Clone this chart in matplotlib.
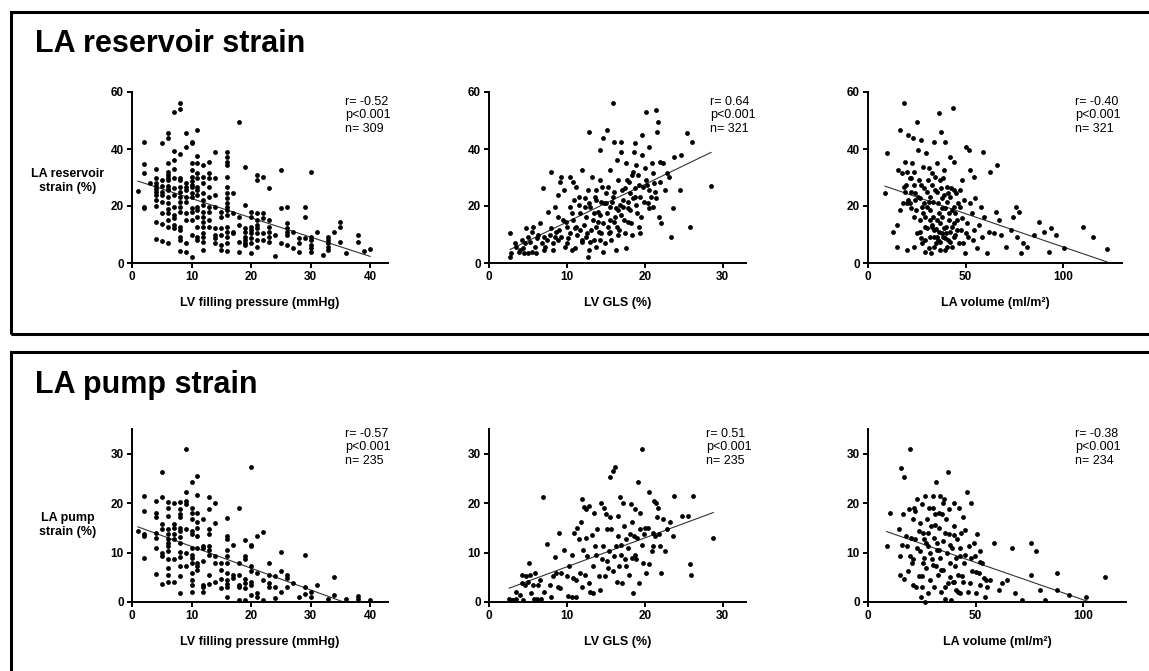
import numpy as np
import matplotlib.pyplot as plt
from matplotlib.patches import Rectangle

plt.rcParams['font.family'] = ['Liberation Sans', 'DejaVu Sans']

W, H = 1149, 671

# ---- data (x, y) ----
# LA reservoir strain (%) vs LV filling pressure (mmHg)
res_fp = [
    (1, 25.3), (2, 42.6), (2, 34.7), (2, 31.5), (2, 19.8), (2, 19.2), (3, 28),
    (4, 33), (4, 30), (4, 28), (4, 27), (4, 26), (4, 25), (4, 24), (4, 22), (4, 20), (4, 14.5), (4, 8.3),
    (5, 42.2), (5, 29), (5, 27), (5, 25), (5, 24), (5, 21.5), (5, 17.4), (5, 13.7), (5, 7.8),
    (6, 45.7), (6, 44), (6, 35), (6, 32), (6, 31), (6, 30), (6, 29), (6, 27), (6, 26), (6, 25.6),
    (6, 23.3), (6, 21), (6, 19), (6, 17.4), (6, 15), (6, 12.7), (6, 6.9),
    (7, 53), (7, 39.4), (7, 36), (7, 33), (7, 29.7), (7, 26.2), (7, 23.9), (7, 19.8), (7, 16.8),
    (7, 15.7), (7, 13.3), (7, 12.2),
    (8, 56), (8, 54), (8, 38.2), (8, 30), (8, 29), (8, 26.8), (8, 25), (8, 23.3), (8, 21.5), (8, 19.8),
    (8, 18), (8, 12.7), (8, 11.6), (8, 9.2), (8, 8.1), (8, 4.3),
    (9, 45.5), (9, 40.6), (9, 28), (9, 26.8), (9, 25.6), (9, 23.3), (9, 21.5), (9, 17.4), (9, 15),
    (9, 6.9), (9, 4),
    (10, 42.6), (10, 42), (10, 35), (10, 32.6), (10, 30.3), (10, 28.8), (10, 27.5), (10, 26.8),
    (10, 24.4), (10, 23.3), (10, 19.2), (10, 18), (10, 15.1), (10, 9.8), (10, 2.2),
    (11, 46.7), (11, 37.5), (11, 35), (11, 31.5), (11, 30), (11, 26.5), (11, 25.6), (11, 23.9),
    (11, 19.8), (11, 18.6), (11, 16.3), (11, 12.7), (11, 9.2), (11, 8.1),
    (12, 34.4), (12, 30.3), (12, 28), (12, 24.4), (12, 22.1), (12, 20.4), (12, 18), (12, 16.3),
    (12, 14.5), (12, 12.7), (12, 10.4), (12, 9.2), (12, 7.5), (12, 4.6),
    (13, 35.6), (13, 31.5), (13, 29.7), (13, 26.8), (13, 23.3), (13, 19.8), (13, 18), (13, 15), (13, 12.7),
    (14, 39), (14, 29.7), (14, 23.9), (14, 19.8), (14, 12.2), (14, 9.8), (14, 8.7), (14, 6.9),
    (15, 18), (15, 16.3), (15, 12.2), (15, 9.8), (15, 6.3), (15, 4.6),
    (16, 39), (16, 37.3), (16, 35.6), (16, 34.4), (16, 30.3), (16, 26.8), (16, 24.4), (16, 22.7),
    (16, 21), (16, 19.8), (16, 18.6), (16, 16.8), (16, 12.7), (16, 11), (16, 9.2), (16, 6.9), (16, 4.3),
    (17, 24.4), (17, 17.4), (17, 11), (17, 10.4),
    (18, 49.6), (18, 16.3), (18, 13.3), (18, 7.5), (18, 4),
    (19, 33.8), (19, 20.4), (19, 12.2), (19, 11), (19, 9.2), (19, 8.1), (19, 6.9), (19, 6.3),
    (20, 18), (20, 16.3), (20, 12.7), (20, 11.6), (20, 10.4), (20, 8.7), (20, 6.9), (20, 3.4),
    (21, 30.9), (21, 29), (21, 17.4), (21, 15.1), (21, 13.3), (21, 12.2), (21, 10.4), (21, 8.1), (21, 5.7),
    (22, 30.3), (22, 17.4), (22, 15.7), (22, 10.4), (22, 8.1),
    (23, 26.2), (23, 15.1), (23, 12.7), (23, 11), (23, 9.2), (23, 7.5),
    (24, 9.8), (24, 2.6), (25, 32.6), (25, 19.2), (25, 6.9),
    (26, 19.8), (26, 13.9), (26, 12.2), (26, 11), (26, 9.8), (26, 6.3),
    (27, 11), (27, 5.1), (28, 8.7), (28, 6.9), (28, 4), (29, 19.8), (29, 16.3), (29, 8.7),
    (30, 32), (30, 9.2), (30, 8.1), (30, 6.3), (30, 5.1), (30, 4), (31, 11), (32, 2.8),
    (33, 9.2), (33, 8.1), (33, 6.9), (33, 5.7), (33, 4.6), (34, 11), (35, 14.5), (35, 12.7), (35, 7.5),
    (36, 3.4), (38, 9.8), (38, 7.5), (39, 4.3), (40, 4.8),
]

# LA reservoir strain (%) vs LV GLS (%)
res_gls = [
    (2.7, 2.2), (2.8, 3.4), (2.7, 10.4), (3.3, 6.9), (3.5, 5.7), (4.0, 4.6), (4.2, 8.1), (4.4, 5.1),
    (4.6, 6.9), (4.8, 12.2), (5.0, 9.2), (5.3, 7.5), (5.5, 11), (5.7, 12.7), (5.0, 3.4), (5.5, 4),
    (5.9, 5.7), (6.1, 8.7), (6.3, 9.8), (6.5, 13.9), (6.8, 6.9), (7.0, 9.2), (6.9, 26.2), (7.2, 5.7),
    (7.4, 8.1), (7.6, 18), (7.8, 9.8), (8.0, 32), (8.2, 4.6), (8.2, 6.9), (8.5, 19.8), (8.6, 11),
    (8.8, 23.9), (8.9, 16.3), (9.1, 28.5), (9.2, 30.3), (9.3, 9.2), (9.5, 15.1), (9.6, 25.6), (9.7, 5.7),
    (10.0, 6.9), (10.2, 8.7), (10.4, 10.4), (10.6, 4.6), (10.4, 30.3), (10.8, 28.5), (11.0, 12.2),
    (11.2, 26.8), (11.3, 9.8), (11.6, 23.3), (11.7, 17.4), (11.9, 8.1), (12.0, 32.6), (12.2, 13.3),
    (12.3, 22.7), (12.4, 16.3), (12.6, 10.4), (12.7, 2.2), (12.9, 46.1), (12.9, 4.6), (13.0, 19.8),
    (13.2, 30.3), (13.3, 15.1), (13.5, 8.1), (13.6, 23.3), (13.7, 12.7), (13.8, 25.6), (14.0, 18),
    (14.1, 11), (14.2, 29.1), (14.3, 39.6), (14.4, 21.5), (14.6, 4), (14.7, 43.7), (14.7, 13.9),
    (14.9, 6.9), (15.0, 24.4), (15.1, 17.4), (15.2, 46.7), (15.3, 26.8), (15.4, 10.4), (15.5, 19.8),
    (15.6, 32.6), (15.7, 8.1), (15.9, 56), (15.9, 23.3), (16.0, 42.6), (16.2, 16.3), (16.3, 4.6),
    (16.4, 36.1), (16.5, 29.1), (16.6, 18.6), (16.7, 11.6), (16.9, 39), (17.0, 42.6), (17.1, 25.6),
    (17.2, 22.1), (17.3, 15.1), (17.4, 10.4), (17.6, 35), (17.7, 29.1), (17.9, 19.2), (18.1, 24.4),
    (18.2, 13.9), (18.3, 9.8), (18.5, 32), (18.6, 39), (18.7, 42), (18.8, 26.2), (18.9, 34.4),
    (19.0, 17.4), (19.1, 30.9), (19.3, 12.7), (19.4, 10.4), (19.4, 23.3), (19.6, 44.9), (19.7, 37.9),
    (19.8, 26.8), (20.0, 33.2), (20.1, 29.1), (20.2, 53.1), (20.4, 20.9), (20.6, 40.8), (20.6, 25.6),
    (20.9, 35), (21.0, 19.8), (21.1, 31.5), (21.3, 25), (21.4, 53.7), (21.5, 22.7), (21.6, 46.1),
    (21.7, 49.6), (21.8, 16.3), (21.9, 35.6), (22.1, 13.9), (22.3, 35), (22.6, 25.6), (22.8, 31.5),
    (23.1, 30.3), (23.4, 9.2), (23.6, 19.2), (23.7, 37.3), (24.5, 25.6), (24.7, 37.9), (25.4, 45.5),
    (25.8, 12.7), (26.1, 42.6), (28.5, 27),
    (10.4, 19.8), (10.8, 15.1), (11.2, 12.7), (12.3, 19.8), (13.8, 22.1), (15.5, 15.1), (16.4, 12.7),
    (17.2, 19.8), (18.1, 18.6), (18.7, 23.3), (17.6, 5.1), (13.8, 5.7), (14.4, 10.4), (12.5, 9.2),
    (11.7, 11.6), (10.0, 12.7), (8.9, 8.1), (8.5, 9.2), (10.6, 17.4), (12.7, 25.6),
    (13.1, 11.6), (14.0, 14.5), (14.8, 20.9), (15.3, 12.7), (15.8, 21.5), (16.1, 25), (16.3, 19.2),
    (16.8, 20.4), (17.0, 16.8), (17.5, 26.2), (17.8, 21.5), (18.0, 28.5), (18.4, 30.9), (18.9, 20.4),
    (19.2, 27.4), (19.9, 21.5), (20.3, 27.4), (20.8, 23.3), (21.2, 28), (14.5, 26.8), (13.5, 17.4),
    (12.8, 21), (11.5, 20.4), (10.9, 22.1), (9.9, 14.5), (9.0, 11.6), (7.9, 12.2), (7.1, 4.6),
    (6.0, 3.4), (4.5, 3.4), (3.8, 4), (11.0, 5.1), (12.0, 7.5), (13.0, 7.5), (14.2, 8.1), (15.5, 11),
    (16.5, 9.8), (17.8, 14.5), (16.0, 14.5), (15.0, 21), (14.3, 16.8), (19.5, 16.3), (20.5, 19.2),
    (22.0, 28.5), (18.5, 22.7),
]

# LA reservoir strain (%) vs LA volume (ml/m2)
res_lav = [
    (8.7, 24.4), (9.6, 38.5), (13, 11), (14.7, 13.3), (14.7, 5.7), (15.6, 32.6), (16.5, 18.6),
    (17.3, 31.5), (18.2, 26.8), (16.5, 46.7), (18.5, 56), (19, 35.6), (19.5, 27.4), (19.9, 20.9),
    (20.2, 4.6), (20.7, 44.9), (21.3, 29.7), (21.6, 20.9), (21.9, 25), (22.5, 35), (23, 43.7),
    (23.3, 16.3), (23.7, 32), (24.2, 24.4), (24.7, 18.6), (25, 49.6), (25.4, 39.6), (25.9, 29.1),
    (26.4, 11), (26.7, 22.7), (27.1, 43.2), (27.6, 6.9), (28.1, 17.4), (28.4, 33.8), (28.8, 26.2),
    (29.3, 12.7), (29.8, 38.5), (30.2, 19.8), (30.5, 29.1), (31, 5.1), (31.5, 9.2), (31.9, 23.3),
    (32.2, 3.4), (32.7, 31.5), (33.2, 16.3), (33.6, 42.6), (33.9, 11.6), (34.4, 25.6), (34.9, 6.9),
    (35.3, 35), (35.6, 20.9), (36.2, 52.5), (36.7, 29.1), (37, 13.9), (37.4, 46.1), (37.9, 19.2),
    (38.4, 9.2), (38.7, 32.6), (39.1, 23.9), (39.6, 42.6), (40.1, 12.7), (40.4, 26.8), (40.8, 8.1),
    (41.3, 17.4), (41.8, 37.3), (42.2, 11), (42.5, 26.2), (43, 5.7), (43.5, 54.3), (43.9, 19.8),
    (44.2, 35.6), (44.7, 9.8), (45.2, 24.4), (45.6, 15.1), (46.4, 6.9), (47, 25.6), (47.3, 19.8),
    (47.6, 11.6), (48.2, 29.1), (48.7, 6.9), (49, 22.1), (49.9, 3.4), (50.4, 40.8), (50.7, 13.9),
    (51.1, 9.2), (51.6, 39.6), (52.4, 32.6), (53.3, 17.4), (53.8, 8.1), (54.2, 11.6), (54.5, 30.3),
    (55, 22.7), (55.9, 5.1), (56.7, 13.3), (57.6, 19.8), (58.4, 9.2), (59, 39), (59.6, 16.3),
    (61, 3.4), (61.9, 11), (62.4, 32), (64.4, 10.4), (65.3, 18), (66.2, 34.4), (67, 15.1), (67.9, 9.8),
    (70.4, 5.7), (73, 11.6), (74.4, 16.3), (75.6, 19.8), (76.4, 9.2), (77.3, 18), (78.1, 3.4),
    (79.5, 6.9), (81.6, 5.7), (85, 9.8), (87.6, 14.5), (90.1, 11), (92.7, 4), (93.6, 12.2), (96.1, 9.8),
    (100.4, 5.1), (109.8, 12.7), (115, 9.2), (122.4, 4.8),
    (31.9, 18.6), (32.7, 12.7), (33.6, 9.2), (35.3, 15.1), (36.2, 11), (37, 7.5), (37.9, 16.3),
    (38.7, 12.2), (39.6, 8.7), (40.4, 5.7), (41.3, 15.1), (42.2, 23.3), (43, 12.7), (43.9, 9.2),
    (44.7, 17.4), (40.4, 21.5), (37.9, 22.7), (35.3, 9.2), (39.6, 4.6), (45.6, 11.6), (29.3, 8.1),
    (26.7, 15.1), (25, 10.4), (23.3, 5.7), (30.2, 12.2), (31.9, 15.1),
    (20.5, 22.1), (22, 19.2), (23.5, 27.4), (25.5, 23.3), (27, 27.4), (28.5, 21), (30, 25),
    (31, 33.2), (32.5, 27.4), (33.5, 21.5), (34.5, 30.3), (35.5, 25), (36.5, 17.4), (37.5, 26.2),
    (38.5, 29.7), (39.5, 19.2), (41, 24.4), (42.8, 18.6), (44, 25.6), (46, 20.9), (48, 15.7),
    (50, 10.4), (52, 21), (34, 5.7), (36, 8.1), (38, 10.4), (40, 10.4), (42, 7.5), (44, 13.9),
    (33, 13.3), (31, 21.5), (29, 16.3), (27.5, 19.8), (24, 22), (22, 30), (20, 32), (19, 25),
    (18, 21), (27, 8.7), (29, 4), (35, 12), (37, 4.6),
]

# LA pump strain (%) vs LV filling pressure (mmHg)
pump_fp = [
    (1, 14.3), (2, 21.5), (2, 18.4), (2, 13.7), (2, 13.3), (2, 8.9),
    (4, 20.5), (4, 18.1), (4, 17.1), (4, 14), (4, 13), (4, 11), (4, 5.7),
    (5, 26.4), (5, 21.2), (5, 15.7), (5, 14.7), (5, 9.9), (5, 9.3), (5, 3.6),
    (6, 20.3), (6, 19.1), (6, 17.4), (6, 14.7), (6, 13.7), (6, 12.8), (6, 12), (6, 11.3), (6, 10.3),
    (6, 8.6), (6, 6.9), (6, 5.5), (6, 4.1),
    (7, 20.1), (7, 15.7), (7, 15), (7, 13.7), (7, 12.7), (7, 8.7), (7, 4),
    (8, 20.3), (8, 18.8), (8, 17.8), (8, 17.1), (8, 15), (8, 14.4), (8, 13.2), (8, 12), (8, 10.1),
    (8, 9.1), (8, 7.2), (8, 5.2), (8, 1.8),
    (9, 31), (9, 22.3), (9, 20.5), (9, 19.8), (9, 14.7), (9, 9.9), (9, 7.2),
    (10, 24.2), (10, 19.1), (10, 18.1), (10, 16.7), (10, 14.4), (10, 13.7), (10, 11), (10, 9.6),
    (10, 8.9), (10, 7.9), (10, 5.9), (10, 4.5), (10, 3.5), (10, 2.1),
    (11, 25.4), (11, 21.6), (11, 18.1), (11, 16.1), (11, 15), (11, 13.3), (11, 11), (11, 7.9),
    (11, 7.2), (11, 6.5),
    (12, 16.7), (12, 11.3), (12, 11), (12, 8.2), (12, 3.5), (12, 3.1), (12, 2),
    (13, 21.2), (13, 18.9), (13, 14.7), (13, 13.7), (13, 11.3), (13, 10.6), (13, 9.6), (13, 5.5), (13, 3.7),
    (14, 20.1), (14, 15.9), (14, 9.3), (14, 7.9), (14, 4.1),
    (15, 7.9), (15, 6.5), (15, 4.6), (15, 2.8),
    (16, 16.9), (16, 13.3), (16, 12.7), (16, 10.6), (16, 9.3), (16, 7.9), (16, 5.9), (16, 4.5),
    (16, 3.6), (16, 3.1), (16, 1.1),
    (17, 11.6), (17, 5.5), (17, 4.8),
    (18, 19.1), (18, 7.9), (18, 5.5), (18, 3.5), (18, 3.1), (18, 0.4),
    (19, 12.5), (19, 9.3), (19, 8.6), (19, 4.6), (19, 3.8), (19, 2.8), (19, 0.4),
    (20, 27.3), (20, 11.6), (20, 11.3), (20, 7.2), (20, 6.2), (20, 4.1), (20, 3.5), (20, 1.4),
    (21, 13.3), (21, 5.9), (21, 1.8), (21, 1.1), (22, 14.1), (22, 4.5), (22, 0.4),
    (23, 7.9), (23, 5.5), (23, 3.8), (23, 3.1), (24, 5.2), (24, 3.1), (24, 0.9),
    (25, 10.1), (25, 6.2), (25, 2.1), (26, 5.5), (26, 4.8), (26, 3.1), (27, 3.8), (28, 1.1),
    (29, 9.6), (29, 3.1), (29, 1.6), (30, 2.1), (30, 1.1), (31, 3.5), (33, 0.7), (34, 5), (34, 1.4),
    (36, 0.7), (38, 1.2), (38, 0.7), (40, 0.4),
]

# LA pump strain (%) vs LV GLS (%)
pump_gls = [
    (2.6, 0.7), (2.9, 0.4), (3.1, 0.4), (3.5, 0.7), (3.5, 2.1), (4, 1.4), (4.2, 3.8), (4.3, 5.5),
    (4.4, 0.4), (4.6, 3.5), (4.8, 5.2), (5, 4.1), (5.2, 7.9), (5.3, 5.5), (5.4, 1.8), (5.6, 3.5),
    (5.8, 0.7), (5.9, 5.9), (6.1, 0.7), (6.3, 3.5), (6.5, 4.5), (6.7, 0.7), (6.9, 21.2), (7, 2.1),
    (7.5, 11.8), (7.8, 3.5), (8, 1.1), (8.2, 5.3), (8.5, 9.1), (8.6, 5.9), (8.8, 3.1), (9, 13.9),
    (9.1, 2.8), (9.3, 5.9), (9.6, 10.6), (10, 5.2), (10.2, 1.3), (10.3, 7.2), (10.6, 1.1), (10.7, 9.6),
    (10.8, 4.8), (10.9, 14), (11.2, 1.1), (11.2, 4.5), (11.3, 15), (11.5, 12.7), (11.7, 5.9),
    (11.8, 16.2), (11.9, 20.8), (12, 3.1), (12.1, 10.6), (12.2, 19.3), (12.3, 5.5), (12.4, 18.9),
    (12.5, 13), (12.6, 9.3), (12.8, 3.8), (12.9, 19.5), (13, 2.1), (13.2, 13.5), (13.3, 7.2),
    (13.4, 1.8), (13.5, 18.1), (13.6, 11.3), (13.8, 9.6), (13.9, 14.7), (14.1, 5.2), (14.2, 2.4),
    (14.4, 20.1), (14.5, 8.6), (14.7, 11.3), (14.8, 19.1), (14.9, 5.2), (15, 17.8), (15.1, 14.7),
    (15.2, 8.2), (15.3, 6.9), (15.4, 10.3), (15.5, 25.2), (15.6, 17.1), (15.7, 14.7), (15.9, 6.2),
    (15.9, 26.6), (16, 9.3), (16.2, 27.3), (16.3, 11.3), (16.4, 4.1), (16.5, 17.4), (16.6, 13.3),
    (16.7, 7.2), (16.8, 21.2), (16.9, 9.6), (17, 11.6), (17.1, 3.8), (17.2, 20.1), (17.3, 15.4),
    (17.4, 8.6), (17.6, 12.7), (17.6, 7.2), (17.9, 11), (18, 5.5), (18.1, 13.7), (18.2, 19.8),
    (18.3, 8.9), (18.4, 16.1), (18.5, 1.8), (18.6, 13.3), (18.7, 9.6), (18.8, 18.8), (18.9, 8.6),
    (19, 13), (19.1, 24.2), (19.2, 3.8), (19.4, 14.7), (19.4, 18.1), (19.6, 11.6), (19.7, 31),
    (19.8, 7.9), (19.9, 13.7), (20, 15), (20.2, 5.9), (20.4, 15), (20.6, 7.6), (20.6, 22.2),
    (20.9, 10.3), (21, 14), (21.1, 11.3), (21.2, 20.5), (21.3, 13.3), (21.4, 20.1), (21.6, 17.1),
    (21.7, 19.1), (21.8, 13.7), (22, 11.3), (22.1, 5.9), (22.4, 16.7), (22.6, 10.3), (22.8, 14.7),
    (23.2, 16.1), (23.6, 13.3), (23.8, 21.5), (25.8, 7.7), (24.8, 17.4), (25.6, 17.3), (26, 5.5),
    (26.2, 21.5), (28.8, 12.9),
]

# LA pump strain (%) vs LA volume (ml/m2)
pump_lav = [
    (8.7, 11.3), (10, 18.1), (14.2, 14.7), (15, 9.3), (15, 5.5), (15.3, 27.1), (15.7, 11.6),
    (16.2, 17.8), (16.8, 25.2), (16.8, 4.6), (17.7, 13.3), (18.3, 11.3), (18.8, 6.2), (19.3, 18.8),
    (19.6, 31), (19.6, 9.3), (19.9, 13), (20.4, 7.9), (20.8, 16.7), (20.8, 3.5), (21.1, 8.6),
    (21.5, 19.1), (21.9, 12.7), (22.4, 3.1), (22.7, 11), (23, 20.8), (23.5, 5.2), (23.9, 14.4),
    (24.3, 10.3), (24.6, 1.1), (24.9, 19.8), (25, 5.3), (25.5, 14), (25.8, 7.9), (26.1, 12.7),
    (26.6, 0.1), (26.6, 21.5), (27, 6.9), (27.4, 16.7), (27.7, 1.8), (28.1, 11.3), (28.5, 19.1),
    (28.9, 4.5), (29.2, 15.4), (29.7, 8.6), (30.2, 21.5), (30.5, 3.1), (30.8, 13), (31.3, 17.8),
    (31.7, 7.2), (31.7, 24.2), (32, 10.6), (32.4, 5.5), (32.8, 15), (33.3, 21.5), (33.6, 8.9),
    (33.9, 2.1), (34.4, 17.8), (34.8, 12.3), (35.1, 6.5), (35.5, 20.8), (35.9, 0.7), (36.4, 16.7),
    (36.7, 9.9), (37, 26.4), (37, 3.8), (37.5, 13.7), (37.9, 18.8), (38.3, 7.9), (38.6, 0.4),
    (39, 11), (39.5, 4.1), (39.8, 20.1), (40.1, 15.4), (40.6, 7.2), (41, 2.4), (41.4, 12.7),
    (41.7, 5.5), (42.1, 19.1), (42.6, 9.3), (42.9, 1.8), (43.2, 14), (43.7, 5.2), (44.2, 17.1),
    (44.5, 7.9), (45.3, 9.6), (46.1, 22.2), (46.3, 2.1), (46.8, 11.3), (47.6, 3.8), (47.9, 20.1),
    (48.4, 6.2), (49.1, 12), (49.9, 9.3), (50.4, 1.8), (50.7, 13.7), (51.5, 5.9), (52, 10.3),
    (52.3, 3.5), (53, 7.9), (53.8, 4.8), (54.6, 1.1), (55.4, 3.1), (56.6, 4.5), (58.5, 12),
    (60.8, 2.4), (62.3, 3.8), (64.7, 4.5), (67, 11), (68.6, 1.8), (71.7, 0.4), (75.9, 12),
    (75.6, 5.5), (78.2, 10.3), (79.8, 2.4), (82.1, 0.4), (88, 5.9), (88, 2.4), (93.5, 1.4),
    (101.2, 1.1), (110.1, 5),
    (22, 18.5), (24, 16), (26, 9), (28, 14), (30, 19), (32, 12), (33, 18), (34, 6.5), (36, 14),
    (38, 11.5), (40, 13.5), (41, 9), (43, 11), (45, 14.5), (36, 3), (38, 5), (40, 4), (30, 7.5),
    (27, 12), (25, 3), (44, 4), (42, 2), (33, 10.5), (29, 10), (31, 15.5), (48, 9), (50, 6),
    (52, 8), (55, 4.5), (35, 20),
]

panel_data = [res_fp, res_gls, res_lav, pump_fp, pump_gls, pump_lav]

# linear fits as drawn (slope, intercept)
fit_slope = [-0.677, 1.32, -0.234, -0.44, 0.584, -0.151]
fit_icept = [29.4, 1.17, 29.0, 15.64, 1.28, 15.56]

stats = [
    "r= -0.52\np<0.001\nn= 309", "r= 0.64\np<0.001\nn= 321", "r= -0.40\np<0.001\nn= 321",
    "r= -0.57\np<0.001\nn= 235", "r= 0.51\np<0.001\nn= 235", "r= -0.38\np<0.001\nn= 234",
]
xlabels = ["LV filling pressure (mmHg)", "LV GLS (%)", "LA volume (ml/m²)"] * 2
ylabels = ["LA reservoir\nstrain (%)", "LA pump\nstrain (%)"]
titles = ["LA reservoir strain", "LA pump strain"]

x_lims = [43, 33, 130, 43, 33, 120]
x_ticks = [[0, 10, 20, 30, 40], [0, 10, 20, 30], [0, 50, 100]] * 2
y_lims = [60, 60, 60, 35, 35, 35]
y_ticks = [[0, 20, 40, 60]] * 3 + [[0, 10, 20, 30]] * 3

# ---- layout (pixels) ----
ax_left = [132, 489, 868, 132, 489, 868]
ax_width = [256, 257, 254, 256, 257, 258]
ax_bottom = [263, 263, 263, 602, 602, 602]
ax_top = [92, 92, 92, 429, 429, 429]
stat_xy = [(345, 96), (710, 96), (1075, 96), (345, 428), (706, 428), (1075, 428)]

fig = plt.figure(figsize=(W / 100, H / 100), dpi=100)

for i in range(6):
    pts = np.array(panel_data[i])
    ax = fig.add_axes([ax_left[i] / W, 1 - ax_bottom[i] / H,
                       ax_width[i] / W, (ax_bottom[i] - ax_top[i]) / H])
    ax.scatter(pts[:, 0], pts[:, 1], s=12, color='black', linewidths=0, clip_on=False, zorder=3)
    xs = np.array([pts[:, 0].min(), pts[:, 0].max()])
    ax.plot(xs, fit_slope[i] * xs + fit_icept[i], color='#333333', lw=0.8, zorder=2)
    ax.set_xlim(0, x_lims[i])
    ax.set_ylim(0, y_lims[i])
    ax.set_xticks(x_ticks[i])
    ax.set_yticks(y_ticks[i])
    for s in ['top', 'right']:
        ax.spines[s].set_visible(False)
    for s in ['left', 'bottom']:
        ax.spines[s].set_linewidth(1.4)
    ax.tick_params(length=3.5, width=1.4, labelsize=8.5, pad=2.5)
    for lab in ax.get_xticklabels() + ax.get_yticklabels():
        lab.set_fontweight('bold')
    ax.set_xlabel(xlabels[i], fontsize=9, fontweight='bold', labelpad=10)
    ax.patch.set_alpha(0)
    fig.text(stat_xy[i][0] / W, 1 - stat_xy[i][1] / H, stats[i], fontsize=9,
             va='top', ha='left', linespacing=1.15)

# y axis labels and section titles
fig.text(68 / W, 1 - 181 / H, ylabels[0], fontsize=9, fontweight='bold', ha='center', va='center', linespacing=1.3)
fig.text(68 / W, 1 - 525 / H, ylabels[1], fontsize=9, fontweight='bold', ha='center', va='center', linespacing=1.3)
fig.text(35 / W, 1 - 52 / H, titles[0], fontsize=22, fontweight='bold', va='baseline')
fig.text(35 / W, 1 - 393 / H, titles[1], fontsize=22, fontweight='bold', va='baseline')

# frames round each section
lw_box = 2.2
fig.add_artist(Rectangle((10.5 / W, 1 - 334 / H), 1.2, (334 - 11.5) / H, transform=fig.transFigure,
                         fill=False, lw=lw_box, edgecolor='black', clip_on=False))
fig.add_artist(Rectangle((10.5 / W, -0.2), 1.2, (0.2 + 1 - 352 / H), transform=fig.transFigure,
                         fill=False, lw=lw_box, edgecolor='black', clip_on=False))

fig.savefig('out.png', dpi=100)
